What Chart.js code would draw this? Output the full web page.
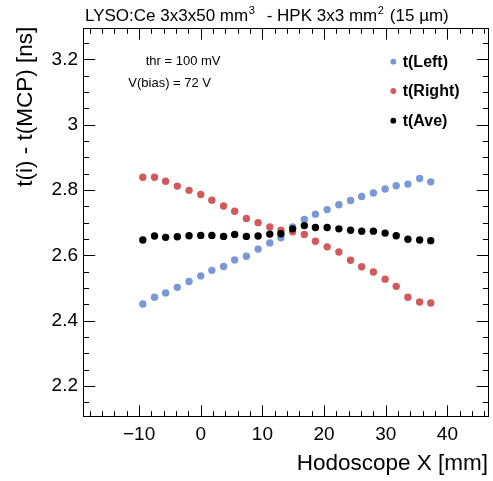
<!DOCTYPE html>
<html><head><meta charset="utf-8">
<script src="https://cdn.jsdelivr.net/npm/chart.js@4"></script>
<style>html,body{margin:0;padding:0;background:#fff;} canvas{display:block;}</style>
</head><body>
<canvas id="c" width="493" height="481"></canvas>
<script>
// ---- data ----
const xValues = [-9.4,-7.5,-5.7,-3.8,-1.9,0.0,1.8,3.7,5.5,7.4,9.3,11.2,13.0,14.9,16.8,18.6,20.5,22.4,24.3,26.1,28.0,29.9,31.7,33.6,35.5,37.3];
const tLeft  = [2.451,2.472,2.485,2.502,2.520,2.537,2.554,2.566,2.586,2.597,2.619,2.638,2.654,2.687,2.710,2.726,2.740,2.755,2.768,2.780,2.791,2.803,2.813,2.818,2.835,2.825];
const tRight = [2.839,2.839,2.827,2.812,2.799,2.786,2.769,2.751,2.735,2.713,2.700,2.687,2.677,2.672,2.664,2.643,2.626,2.610,2.585,2.565,2.549,2.527,2.505,2.472,2.457,2.454];
const tAve   = [2.647,2.659,2.655,2.657,2.660,2.661,2.661,2.658,2.664,2.658,2.659,2.665,2.666,2.681,2.691,2.685,2.685,2.681,2.677,2.674,2.674,2.668,2.660,2.649,2.647,2.645];
const seriesLabels = ['t(Left)','t(Right)','t(Ave)'];
const xTickValues = [-10,0,10,20,30,40];
const yTickValues = [2.2,2.4,2.6,2.8,3.0,3.2];

const FONT = "'Liberation Sans', Arial, Helvetica, sans-serif";
const COLORS = ['#7a98d6','#d05a5c','#000000'];

function pts(ys){ return xValues.map((x,i)=>({x:x,y:ys[i]})); }

const rootStyle = {
  id:'rootStyle',
  beforeDraw(chart){
    const ctx = chart.ctx;
    ctx.save(); ctx.fillStyle='#fff'; ctx.fillRect(0,0,chart.width,chart.height); ctx.restore();
  },
  beforeDatasetsDraw(chart){
    const {ctx, chartArea:a, scales:{x,y}} = chart;
    ctx.save();
    ctx.strokeStyle='#000'; ctx.lineWidth=1;
    ctx.strokeRect(Math.round(a.left)+0.5, Math.round(a.top)+0.5, Math.round(a.right-a.left)-1, Math.round(a.bottom-a.top)-1);
    const h = a.bottom-a.top, w = a.right-a.left;
    const xMaj = 0.03*h, xMin = xMaj/2, yMaj = 0.03*w, yMin = yMaj/2;
    ctx.beginPath();
    for (let v=-18; v<=46; v+=2){
      if (v < x.min || v > x.max) continue;
      const p = Math.round(x.getPixelForValue(v))+0.5;
      const L = (v%10===0)? xMaj : xMin;
      ctx.moveTo(p,a.bottom); ctx.lineTo(p,a.bottom-L);
      ctx.moveTo(p,a.top); ctx.lineTo(p,a.top+L);
    }
    for (let i=42; i<=66; i++){
      const v = i*0.05;
      if (v < y.min || v > y.max) continue;
      const p = Math.round(y.getPixelForValue(v))+0.5;
      const L = (i%4===0)? yMaj : yMin;
      ctx.moveTo(a.left,p); ctx.lineTo(a.left+L,p);
      ctx.moveTo(a.right,p); ctx.lineTo(a.right-L,p);
    }
    ctx.stroke();
    ctx.restore();
  },
  afterDraw(chart){
    const ctx = chart.ctx;
    ctx.save();
    ctx.fillStyle='#000';
    ctx.textBaseline='alphabetic';
    ctx.textAlign='left';
    // title
    const big = "17px "+FONT, small = "11px "+FONT;
    const base = 20.7, supBase = 13.5;
    ctx.font = big;
    const p1 = 'LYSO:Ce 3x3x50 mm';
    ctx.fillText(p1, 85, base);
    const e1 = 85 + ctx.measureText(p1).width;
    const p2 = '- HPK 3x3 mm';
    const x2 = 266.7;
    ctx.fillText(p2, x2, base);
    const e2 = x2 + ctx.measureText(p2).width;
    ctx.font = small;
    const supW = ctx.measureText('2').width;
    ctx.fillText('3', e1 + 0.5, supBase);
    ctx.fillText('2', e2 + 0.5, supBase);
    ctx.font = big;
    ctx.fillText('(15 \u00B5m)', e2 + 0.5 + supW + 6, base);
    // annotations
    ctx.font = "13px "+FONT;
    ctx.fillText('thr = 100 mV', 145.7, 65.3);
    ctx.fillText('V(bias) = 72 V', 128.3, 87);
    // axis titles
    ctx.font = "22.5px "+FONT;
    ctx.textAlign='right';
    ctx.fillText('Hodoscope X [mm]', 488, 470);
    ctx.save();
    ctx.translate(31.7, 26.7);
    ctx.rotate(-Math.PI/2);
    ctx.fillText('t(i) - t(MCP) [ns]', 0, 0);
    ctx.restore();
    // legend
    const ly = [61.7, 91, 120.7];
    ctx.font = "bold 16px "+FONT;
    ctx.textAlign='left';
    ctx.textBaseline='middle';
    seriesLabels.forEach((lab,i)=>{
      ctx.fillStyle = COLORS[i];
      ctx.beginPath(); ctx.arc(393.3, ly[i], 2.9, 0, Math.PI*2); ctx.fill();
      ctx.fillStyle = '#000';
      ctx.fillText(lab, 402.7, ly[i]+0.5);
    });
    ctx.restore();
  }
};

new Chart(document.getElementById('c'), {
  type:'scatter',
  data:{
    datasets:[
      {label:seriesLabels[0], data:pts(tLeft),  backgroundColor:COLORS[0], borderColor:COLORS[0], pointRadius:3.7, pointBorderWidth:0, showLine:false, order:3},
      {label:seriesLabels[1], data:pts(tRight), backgroundColor:COLORS[1], borderColor:COLORS[1], pointRadius:3.7, pointBorderWidth:0, showLine:false, order:2},
      {label:seriesLabels[2], data:pts(tAve),   backgroundColor:COLORS[2], borderColor:COLORS[2], pointRadius:3.7, pointBorderWidth:0, showLine:false, order:1}
    ]
  },
  options:{
    responsive:false,
    animation:false,
    events:[],
    devicePixelRatio:1,
    layout:{padding:{top:28, right:3, left:0, bottom:0}},
    plugins:{legend:{display:false}, tooltip:{enabled:false}, title:{display:false}},
    scales:{
      x:{
        type:'linear', position:'bottom', min:-19.1, max:46.75,
        grid:{display:false, drawTicks:false}, border:{display:false},
        afterFit(s){ s.height = 64; },
        afterBuildTicks(s){ s.ticks = xTickValues.map(v=>({value:v})); },
        ticks:{padding:6, color:'#000', font:{family:FONT, size:19}, maxRotation:0, autoSkip:false,
          callback:(v)=> v<0 ? '\u2212'+Math.abs(v) : String(v)}
      },
      y:{
        type:'linear', position:'left', min:2.105, max:3.296,
        grid:{display:false, drawTicks:false}, border:{display:false},
        afterFit(s){ s.width = 83; },
        afterBuildTicks(s){ s.ticks = yTickValues.map(v=>({value:v})); },
        ticks:{padding:5, color:'#000', font:{family:FONT, size:19}, autoSkip:false,
          callback:(v)=> String(Math.round(v*10)/10)}
      }
    }
  },
  plugins:[rootStyle]
});
</script></body></html>
